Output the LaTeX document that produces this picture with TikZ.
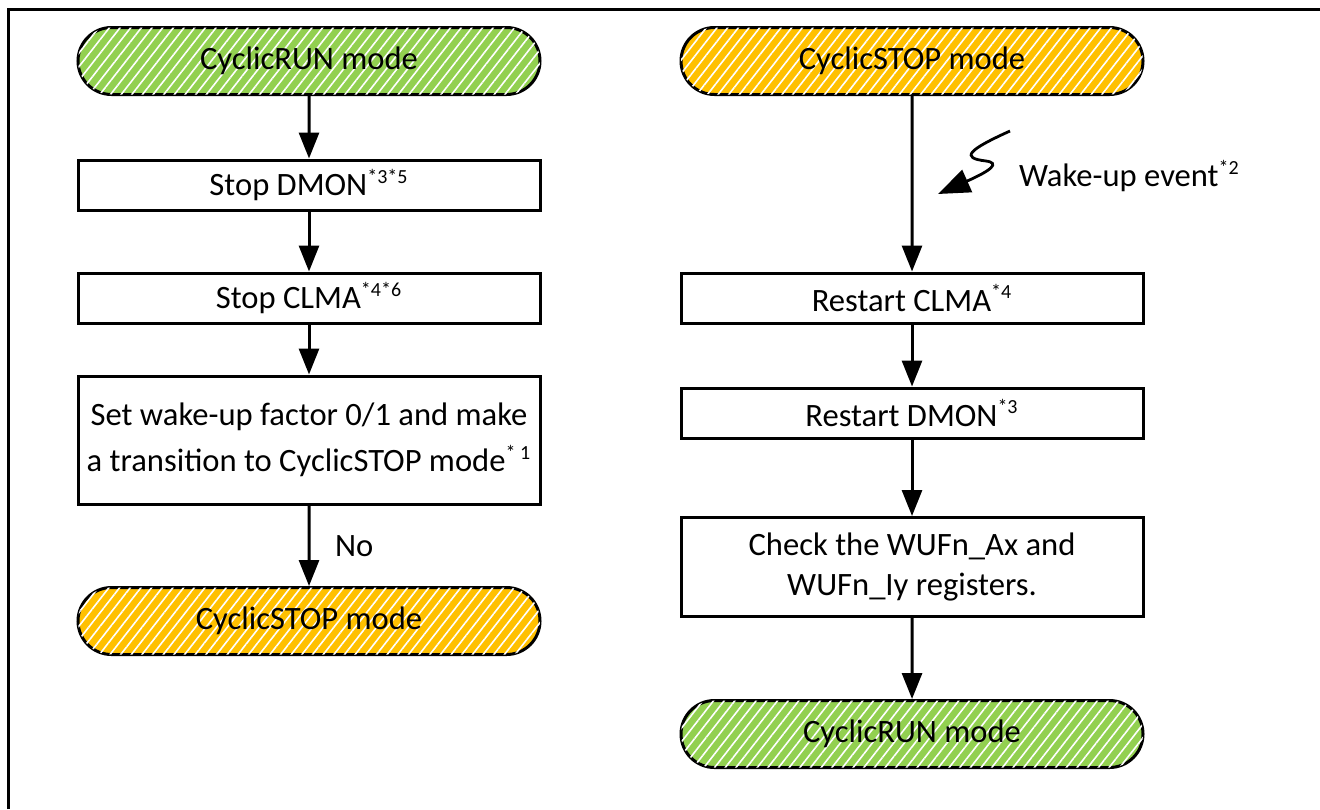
\documentclass[tikz,border=0pt]{standalone}
\usepackage{fontspec}
\setmainfont{Carlito}
\usetikzlibrary{shapes.misc,patterns.meta,arrows.meta}

\definecolor{runGreen}{RGB}{146,208,80}
\definecolor{stopOrange}{RGB}{255,192,0}
\newcommand{\note}[1]{\textsuperscript{\fontsize{10}{10}\selectfont #1}}

\tikzset{
  every node/.style={font=\fontsize{16.3}{20}\selectfont},
  term/.style={rounded rectangle, draw, line width=1.5pt, minimum width=231pt,
    minimum height=33.5pt, inner sep=0pt, fill=#1,
    postaction={pattern={Lines[angle=52,distance=4.2pt,line width=0.8pt]}, pattern color=white}},
  proc/.style={rectangle, draw, line width=1.5pt, minimum width=231pt,
    minimum height=25pt, inner sep=2pt, align=center},
  flow/.style={line width=1.5pt, -{Triangle[length=13pt,width=10pt]}},
}

\begin{document}
\begin{tikzpicture}[x=0.5pt,y=-0.5pt]
\useasboundingbox (0,0) rectangle (1320,809);
\draw [line width=1.5pt] (8,809) -- (8,9) -- (1320,9);

% left column
\node [term=runGreen] (runA) at (309,61) {CyclicRUN mode};
\node [proc] (dmonA) at (309,185) {Stop DMON\note{*3*5}};
\node [proc] (clmaA) at (309,298) {Stop CLMA\note{*4*6}};
\node [proc, minimum height=64pt] (setA) at (309,440) {Set wake-up factor 0/1 and make\\[3pt]a transition to CyclicSTOP mode\note{* 1}};
\node [term=stopOrange] (stopA) at (309,621) {CyclicSTOP mode};

\draw [flow] (runA) -- (dmonA);
\draw [flow] (dmonA) -- (clmaA);
\draw [flow] (clmaA) -- (setA);
\draw [flow] (setA) -- node [anchor=west, xshift=9pt] {No} (stopA);

% right column
\node [term=stopOrange] (stopB) at (912,61) {CyclicSTOP mode};
\node [proc] (clmaB) at (912,298) {Restart CLMA\note{*4}};
\node [proc] (dmonB) at (912,413) {Restart DMON\note{*3}};
\node [proc, minimum height=49.5pt] (chkB) at (912,567) {Check the WUFn\_Ax and\\WUFn\_Iy registers.};
\node [term=runGreen] (runB) at (912,734) {CyclicRUN mode};

\draw [flow] (stopB) -- (clmaB);
\draw [flow] (clmaB) -- (dmonB);
\draw [flow] (dmonB) -- (chkB);
\draw [flow] (chkB) -- (runB);

% wake-up event
\coordinate (boltTop) at (1010,131);
\coordinate (boltTip) at (938,194);
\draw [line width=1.4pt, -{Triangle[length=16pt,width=12pt]}] (boltTop) .. controls (968,150) and (960,158) .. (986,161) .. controls (1000,163) and (992,170) .. (boltTip);
\node [anchor=west] (wake) at (1012,176) {Wake-up event\note{*2}};
\end{tikzpicture}
\end{document}
